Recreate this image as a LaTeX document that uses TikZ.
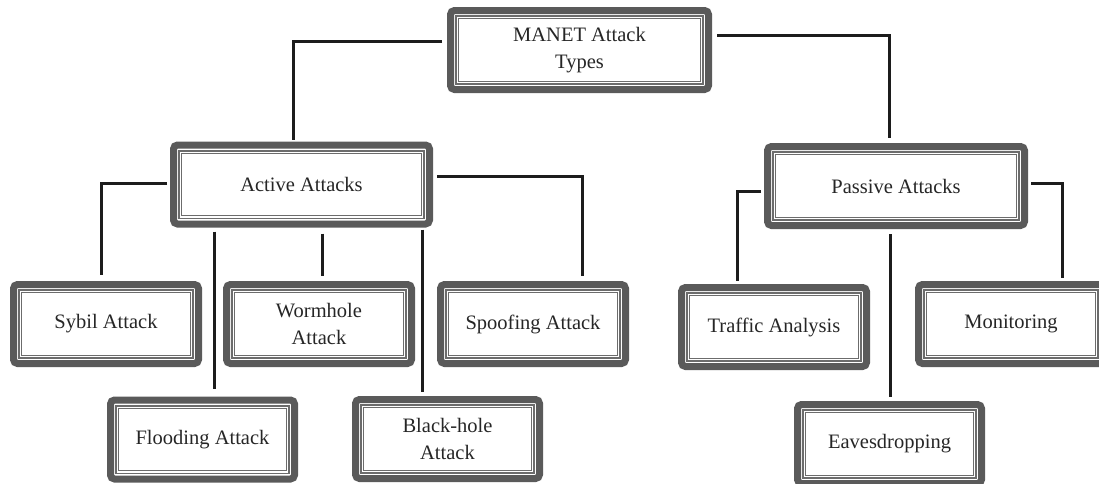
\documentclass[tikz,border=0pt]{standalone}
\usepackage{fontspec}
\setmainfont{Liberation Serif}
\definecolor{bandgray}{HTML}{5A5A5A}
\definecolor{linegray}{HTML}{6C6C6C}
\definecolor{conn}{HTML}{1C1C1C}
\tikzset{
  mbox/.style={draw=bandgray, line width=7pt, rounded corners=4pt, fill=white,
    minimum width=#1, minimum height=79pt, inner sep=0pt, align=center,
    text=black!85, font=\fontsize{20.5}{27}\selectfont,
    path picture={
      \draw[linegray, line width=1.8pt, sharp corners]
        ([xshift=5.6pt,yshift=5.6pt]path picture bounding box.south west) rectangle
        ([xshift=-5.6pt,yshift=-5.6pt]path picture bounding box.north east);
      \draw[linegray, line width=1pt, sharp corners]
        ([xshift=8.3pt,yshift=8.3pt]path picture bounding box.south west) rectangle
        ([xshift=-8.3pt,yshift=-8.3pt]path picture bounding box.north east);
    }},
  mbox/.default=185pt,
  link/.style={draw=conn, line width=3pt}
}
\begin{document}
\begin{tikzpicture}[x=1pt,y=-1pt]
\useasboundingbox (0,0) rectangle (1099,483);
\clip (0,0) rectangle (1099,483);
\node[mbox=258pt] (man) at (579.5,50) {MANET Attack\\Types};
\node[mbox=256pt] (act) at (301.5,184.5) {Active Attacks};
\node[mbox=257pt] (pas) at (896,186) {Passive Attacks};
\node[mbox] (syb) at (106,324) {Sybil Attack};
\node[mbox] (wor) at (319,324) {Wormhole\\Attack};
\node[mbox] (spo) at (533,324) {Spoofing Attack};
\node[mbox=184pt] (flo) at (202.5,439.5) {Flooding Attack};
\node[mbox=184pt] (bla) at (447.5,439) {Black-hole\\Attack};
\node[mbox] (tra) at (774,327) {Traffic Analysis};
\node[mbox] (mon) at (1011,324) {Monitoring};
\node[mbox=184pt] (eav) at (889.5,444) {Eavesdropping};
% connectors
\draw[link] ([xshift=-5pt,yshift=9pt]man.west) -| ([xshift=-8.5pt,yshift=2pt]act.north);
\draw[link] ([xshift=5pt,yshift=15pt]man.east) -| ([xshift=-7pt,yshift=5pt]pas.north);
\draw[link] ([xshift=-3pt,yshift=1.5pt]act.west) -| ([xshift=-5pt,yshift=6pt]syb.north);
\draw[link] ([xshift=-87.5pt,yshift=-4pt]act.south) -- ([xshift=11.5pt,yshift=8pt]flo.north);
\draw[link] ([xshift=20.5pt,yshift=-6pt]act.south) -- ([xshift=3pt,yshift=5pt]wor.north);
\draw[link] ([xshift=120.5pt,yshift=-2pt]act.south) -- ([xshift=-25.5pt,yshift=4pt]bla.north);
\draw[link] ([xshift=4pt,yshift=8.5pt]act.east) -| ([xshift=49pt,yshift=5pt]spo.north);
\draw[link] ([xshift=-3pt,yshift=-5pt]pas.west) -| ([xshift=-37pt,yshift=3pt]tra.north);
\draw[link] ([xshift=-6pt,yshift=-5pt]pas.south) -- ([xshift=0.5pt,yshift=4pt]eav.north);
\draw[link] ([xshift=3pt,yshift=3pt]pas.east) -| ([xshift=51pt,yshift=3pt]mon.north);
\end{tikzpicture}
\end{document}
